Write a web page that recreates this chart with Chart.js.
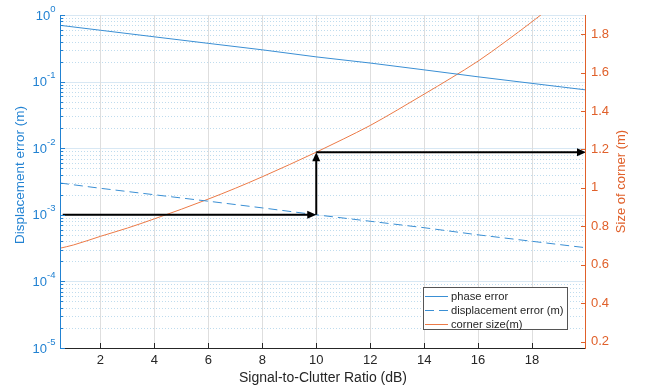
<!DOCTYPE html>
<html>
<head>
<meta charset="utf-8">
<script src="https://cdn.jsdelivr.net/npm/chart.js@4"></script>
<style>
  html, body { margin: 0; padding: 0; background: #fff; }
  canvas { display: block; }
</style>
</head>
<body>
<canvas id="c" width="645" height="390"></canvas>
<script>
// Signal-to-clutter ratio (dB) at which the error curves are sampled
const scrPoints = [0.5, 2, 4, 6, 8, 10, 12, 14, 16, 18, 20];
// Phase error (left, log axis)
const phaseError = [0.70, 0.59, 0.47, 0.375, 0.30, 0.235, 0.19, 0.15, 0.118, 0.094, 0.075];
// Displacement error in metres (left, log axis)
const displacementError = [0.0030, 0.0025, 0.0020, 0.0016, 0.00127, 0.0010, 0.0008, 0.00064, 0.0005, 0.0004, 0.00032];

// Corner reflector size in metres (right, linear axis)
const cornerScr = [0.5, 1, 2, 3, 4, 5, 6, 7, 8, 9, 10, 11, 12, 13, 14, 15, 16, 17, 18, 19, 20];
const cornerSize = [0.686, 0.703, 0.748, 0.791, 0.839, 0.889, 0.942, 0.998, 1.058, 1.121, 1.186,
                    1.254, 1.325, 1.405, 1.488, 1.572, 1.660, 1.760, 1.865, 1.975, 2.090];

// Axis ticks
const xTicks = [2, 4, 6, 8, 10, 12, 14, 16, 18];
const leftExponents = [-5, -4, -3, -2, -1, 0];
const rightTicks = [0.2, 0.4, 0.6, 0.8, 1.0, 1.2, 1.4, 1.6, 1.8];

// Read-off path: required displacement accuracy -> SCR -> corner size
const requiredDisplacement = 0.001;
const requiredScr = 10;
const requiredCorner = 1.186;
const arrows = [
  { from: { x: 0.6, y: requiredDisplacement, axis: 'y' }, to: { x: requiredScr, y: requiredDisplacement, axis: 'y' } },
  { from: { x: requiredScr, y: requiredDisplacement, axis: 'y' }, to: { x: requiredScr, y: requiredCorner, axis: 'y1' } },
  { from: { x: requiredScr, y: requiredCorner, axis: 'y1' }, to: { x: 20, y: requiredCorner, axis: 'y1' } }
];

const FONT = '"Liberation Sans", Arial, Helvetica, sans-serif';
const BLUE_LINE = '#3a8fd4';
const ORANGE_LINE = '#ec7a47';
const BLUE_TEXT = '#2282d2';
const ORANGE_TEXT = '#e0602a';
const DARK = '#262626';

function toPoints(xs, ys) { return xs.map((x, i) => ({ x: x, y: ys[i] })); }

function strokeLine(ctx, x0, y0, x1, y1) {
  ctx.beginPath(); ctx.moveTo(x0, y0); ctx.lineTo(x1, y1); ctx.stroke();
}

function drawArrow(ctx, x0, y0, x1, y1) {
  const len = Math.hypot(x1 - x0, y1 - y0);
  const ux = (x1 - x0) / len, uy = (y1 - y0) / len;
  const head = 9, half = 4;
  ctx.beginPath();
  ctx.moveTo(x0, y0);
  ctx.lineTo(x1 - ux * head * 0.7, y1 - uy * head * 0.7);
  ctx.stroke();
  ctx.beginPath();
  ctx.moveTo(x1, y1);
  ctx.lineTo(x1 - ux * head - uy * half, y1 - uy * head + ux * half);
  ctx.lineTo(x1 - ux * head + uy * half, y1 - uy * head - ux * half);
  ctx.closePath();
  ctx.fill();
}

// Grid, axis lines, inward ticks, log labels, arrows and legend drawn MATLAB-style
const matlabAxes = {
  id: 'matlabAxes',
  beforeDatasetsDraw(chart) {
    const { ctx, chartArea: a, scales: { x, y } } = chart;
    ctx.save();
    ctx.lineWidth = 1;
    // minor log grid (dotted)
    ctx.strokeStyle = 'rgba(0,114,189,0.25)';
    ctx.setLineDash([1, 2]);
    for (let e = leftExponents[0]; e < leftExponents[leftExponents.length - 1]; e++) {
      for (let m = 2; m <= 9; m++) {
        const py = Math.round(y.getPixelForValue(m * Math.pow(10, e))) + 0.5;
        strokeLine(ctx, a.left, py, a.right, py);
      }
    }
    ctx.setLineDash([]);
    // major decade grid
    ctx.strokeStyle = '#d8e8f4';
    leftExponents.forEach(e => {
      const py = Math.round(y.getPixelForValue(Math.pow(10, e))) + 0.5;
      strokeLine(ctx, a.left, py, a.right, py);
    });
    // vertical grid
    ctx.strokeStyle = '#dedede';
    xTicks.forEach(v => {
      const px = Math.round(x.getPixelForValue(v)) + 0.5;
      strokeLine(ctx, px, a.top, px, a.bottom);
    });
    ctx.restore();
  },
  afterDatasetsDraw(chart) {
    const { ctx, chartArea: a, scales } = chart;
    const { x, y, y1 } = scales;
    ctx.save();
    // arrows
    ctx.strokeStyle = '#000';
    ctx.fillStyle = '#000';
    ctx.lineWidth = 2;
    arrows.forEach(ar => {
      const x0 = x.getPixelForValue(ar.from.x), y0 = scales[ar.from.axis].getPixelForValue(ar.from.y);
      const x1 = x.getPixelForValue(ar.to.x), y1p = scales[ar.to.axis].getPixelForValue(ar.to.y);
      drawArrow(ctx, x0, y0, x1, y1p);
    });

    ctx.lineWidth = 1;
    // bottom axis with inward ticks
    ctx.strokeStyle = DARK;
    strokeLine(ctx, a.left, a.bottom + 0.5, a.right, a.bottom + 0.5);
    xTicks.forEach(v => {
      const px = Math.round(x.getPixelForValue(v)) + 0.5;
      strokeLine(ctx, px, a.bottom, px, a.bottom - 5);
    });
    // left log axis
    ctx.strokeStyle = BLUE_TEXT;
    strokeLine(ctx, a.left + 0.5, a.top, a.left + 0.5, a.bottom + 1);
    for (let e = leftExponents[0]; e <= leftExponents[leftExponents.length - 1]; e++) {
      for (let m = 1; m <= 9; m++) {
        const v = m * Math.pow(10, e);
        if (v > y.max * 1.0001) break;
        const py = Math.round(y.getPixelForValue(v)) + 0.5;
        strokeLine(ctx, a.left, py, a.left + (m === 1 ? 5 : 3), py);
      }
    }
    // right linear axis
    ctx.strokeStyle = ORANGE_TEXT;
    strokeLine(ctx, a.right - 0.5, a.top, a.right - 0.5, a.bottom + 1);
    rightTicks.forEach(v => {
      const py = Math.round(y1.getPixelForValue(v)) + 0.5;
      strokeLine(ctx, a.right - 5, py, a.right, py);
    });

    // legend
    const lx = 423.5, ly = 287.5, lw = 144, lh = 42;
    ctx.fillStyle = '#fff';
    ctx.fillRect(lx, ly, lw, lh);
    ctx.strokeStyle = '#555';
    ctx.strokeRect(lx, ly, lw, lh);
    ctx.font = '11.2px ' + FONT;
    ctx.textBaseline = 'middle';
    ctx.textAlign = 'left';
    chart.data.datasets.forEach((ds, i) => {
      const ry = Math.round(ly + 8 + i * 14) + 0.5;
      ctx.strokeStyle = ds.borderColor;
      ctx.lineWidth = 1;
      ctx.setLineDash(ds.borderDash || []);
      strokeLine(ctx, 425, ry, 448, ry);
      ctx.setLineDash([]);
      ctx.fillStyle = DARK;
      ctx.fillText(ds.label, 451, ry);
    });
    ctx.restore();
  },
  afterDraw(chart) {
    const { ctx, chartArea: a, scales: { y } } = chart;
    ctx.save();
    ctx.fillStyle = BLUE_TEXT;
    ctx.textBaseline = 'middle';
    leftExponents.forEach(e => {
      const py = y.getPixelForValue(Math.pow(10, e));
      const sup = String(e);
      ctx.font = '9.5px ' + FONT;
      const supW = ctx.measureText(sup).width;
      const right = 55.5;
      ctx.textAlign = 'left';
      ctx.fillText(sup, right - supW, py - 6);
      ctx.font = '13px ' + FONT;
      ctx.textAlign = 'right';
      ctx.fillText('10', right - supW, py + 1);
    });
    // left axis title
    ctx.save();
    ctx.font = '13.5px ' + FONT;
    ctx.textAlign = 'center';
    ctx.translate(20, 175);
    ctx.rotate(-Math.PI / 2);
    ctx.fillText('Displacement error (m)', 0, 0);
    ctx.restore();
    // right axis title, reading upward
    ctx.fillStyle = ORANGE_TEXT;
    ctx.font = '13px ' + FONT;
    ctx.textAlign = 'center';
    ctx.translate(621, (a.top + a.bottom) / 2);
    ctx.rotate(-Math.PI / 2);
    ctx.fillText('Size of corner (m)', 0, 0);
    ctx.restore();
  }
};

new Chart(document.getElementById('c'), {
  type: 'line',
  data: {
    datasets: [
      { label: 'phase error', data: toPoints(scrPoints, phaseError), yAxisID: 'y',
        borderColor: BLUE_LINE, borderWidth: 1, pointRadius: 0, fill: false },
      { label: 'displacement error (m)', data: toPoints(scrPoints, displacementError), yAxisID: 'y',
        borderColor: BLUE_LINE, borderWidth: 1, borderDash: [9, 5], pointRadius: 0, fill: false },
      { label: 'corner size(m)', data: toPoints(cornerScr, cornerSize), yAxisID: 'y1',
        borderColor: ORANGE_LINE, borderWidth: 1, pointRadius: 0, fill: false, cubicInterpolationMode: 'monotone' }
    ]
  },
  options: {
    responsive: false,
    animation: false,
    devicePixelRatio: 1,
    layout: { padding: { top: 15, left: 0, right: 0, bottom: 0 } },
    plugins: { legend: { display: false }, tooltip: { enabled: false } },
    scales: {
      x: {
        type: 'linear', min: 0.5, max: 20,
        afterBuildTicks: s => { s.ticks = xTicks.map(v => ({ value: v })); },
        afterFit: s => { s.height = 42; },
        grid: { display: false, drawTicks: false }, border: { display: false },
        ticks: { padding: 5, color: DARK, font: { family: FONT, size: 13 }, maxRotation: 0, autoSkip: false },
        title: { display: true, text: 'Signal-to-Clutter Ratio (dB)', color: DARK,
                 font: { family: FONT, size: 14 }, padding: { top: 0, bottom: 3 } }
      },
      y: {
        type: 'logarithmic', position: 'left', min: 1e-5, max: 1,
        afterBuildTicks: s => { s.ticks = leftExponents.map(e => ({ value: Math.pow(10, e) })); },
        afterFit: s => { s.width = 60; },
        grid: { display: false, drawTicks: false }, border: { display: false },
        ticks: { callback: () => '' }
      },
      y1: {
        type: 'linear', position: 'right', min: 0.1667, max: 1.9,
        afterBuildTicks: s => { s.ticks = rightTicks.map(v => ({ value: v })); },
        afterFit: s => { s.width = 59; },
        grid: { display: false, drawTicks: false }, border: { display: false },
        ticks: { padding: 5, color: ORANGE_TEXT, font: { family: FONT, size: 13 },
                 callback: v => String(Math.round(v * 10) / 10) }
      }
    }
  },
  plugins: [matlabAxes]
});
</script>
</body>
</html>
